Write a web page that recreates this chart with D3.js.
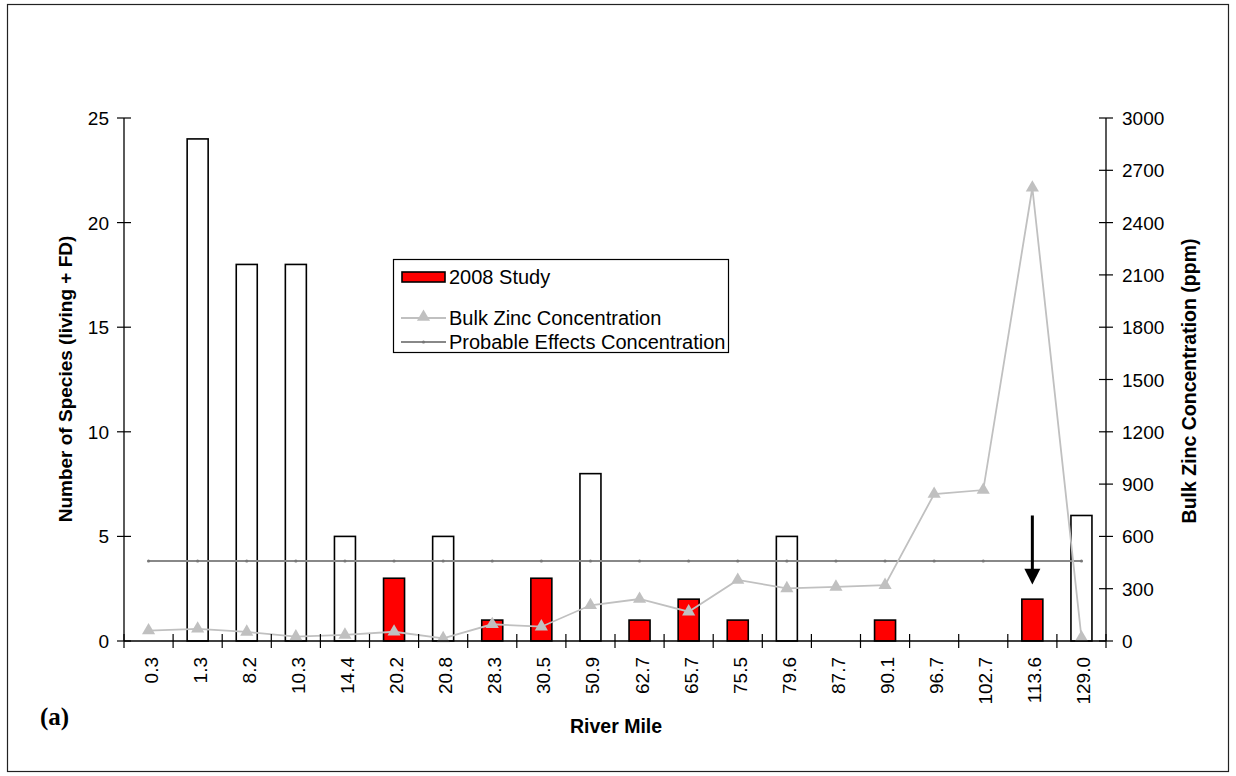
<!DOCTYPE html>
<html>
<head>
<meta charset="utf-8">
<script src="https://cdn.jsdelivr.net/npm/d3@7"></script>
<style>
  html, body { margin: 0; padding: 0; background: #fff; }
  svg { display: block; font-family: Arial, "Liberation Sans", sans-serif; }
</style>
</head>
<body>
<svg id="chart" width="1236" height="776"></svg>
<script>
// River mile stations (x categories)
const riverMiles = ["0.3","1.3","8.2","10.3","14.4","20.2","20.8","28.3","30.5","50.9",
                    "62.7","65.7","75.5","79.6","87.7","90.1","96.7","102.7","113.6","129.0"];
// Number of species (living + FD) from earlier surveys (open bars); null = no bar
const earlierSpecies = [null, 24, 18, 18, 5, null, 5, null, null, 8,
                        null, null, null, 5, null, null, null, null, null, 6];
// Number of species from the 2008 study (red bars)
const study2008 = [null, null, null, null, null, 3, null, 1, 3, null,
                   1, 2, 1, null, null, 1, null, null, 2, null];
// Bulk zinc concentration (ppm)
const bulkZinc = [60, 70, 52, 25, 35, 53, 15, 96, 82, 205,
                  241, 168, 350, 302, 310, 320, 843, 866, 2600, 20];
// Probable effects concentration for zinc (ppm)
const pecZinc = 459;
// Axis ticks
const leftTicks = [0, 5, 10, 15, 20, 25];
const rightTicks = [0, 300, 600, 900, 1200, 1500, 1800, 2100, 2400, 2700, 3000];
// Station marked with an arrow
const arrowStation = "113.6";

const svg = d3.select("#chart");
const L = 124, R = 1106, T = 118, B = 641;
const FS = 19;

// outer frame
svg.append("rect").attr("x", 7.5).attr("y", 4.5).attr("width", 1221).attr("height", 767)
  .attr("fill", "none").attr("stroke", "#222").attr("stroke-width", 1.2);

const x = d3.scaleBand().domain(riverMiles).range([L, R]).paddingInner(0).paddingOuter(0);
const yL = d3.scaleLinear().domain([0, 25]).range([B, T]);
const yR = d3.scaleLinear().domain([0, 3000]).range([B, T]);
const barW = 21;
const cx = d => x(d) + x.bandwidth() / 2;

// open bars (earlier surveys)
svg.append("g").selectAll("rect")
  .data(riverMiles.map((m, i) => ({ m, v: earlierSpecies[i] })).filter(d => d.v != null))
  .join("rect")
  .attr("x", d => cx(d.m) - barW / 2).attr("width", barW)
  .attr("y", d => yL(d.v)).attr("height", d => yL(0) - yL(d.v))
  .attr("fill", "#fff").attr("stroke", "#000").attr("stroke-width", 1.6);

// red bars (2008 study)
svg.append("g").selectAll("rect")
  .data(riverMiles.map((m, i) => ({ m, v: study2008[i] })).filter(d => d.v != null))
  .join("rect")
  .attr("x", d => cx(d.m) - barW / 2).attr("width", barW)
  .attr("y", d => yL(d.v)).attr("height", d => yL(0) - yL(d.v))
  .attr("fill", "#ff0000").attr("stroke", "#000").attr("stroke-width", 1.6);

// PEC line with small point markers
svg.append("line")
  .attr("x1", cx(riverMiles[0])).attr("x2", cx(riverMiles[riverMiles.length - 1]))
  .attr("y1", yR(pecZinc)).attr("y2", yR(pecZinc))
  .attr("stroke", "#888").attr("stroke-width", 2);
svg.append("g").selectAll("circle").data(riverMiles).join("circle")
  .attr("cx", d => cx(d)).attr("cy", yR(pecZinc)).attr("r", 1.6).attr("fill", "#777");

// zinc line with triangle markers
const zincPts = riverMiles.map((m, i) => [cx(m), yR(bulkZinc[i])]);
svg.append("path").attr("d", d3.line()(zincPts))
  .attr("fill", "none").attr("stroke", "#c0c0c0").attr("stroke-width", 1.8);
const tri = d3.symbol().type(d3.symbolTriangle).size(75);
svg.append("g").selectAll("path").data(zincPts).join("path")
  .attr("d", tri).attr("transform", d => `translate(${d[0]},${d[1]})`)
  .attr("fill", "#c0c0c0");

// x axis
const xAxis = svg.append("g");
xAxis.append("line").attr("x1", L).attr("x2", R).attr("y1", B).attr("y2", B)
  .attr("stroke", "#000").attr("stroke-width", 1.3);
xAxis.selectAll("line.tk").data(d3.range(riverMiles.length + 1)).join("line")
  .attr("class", "tk")
  .attr("x1", i => L + i * x.bandwidth()).attr("x2", i => L + i * x.bandwidth())
  .attr("y1", B - 7).attr("y2", B + 7).attr("stroke", "#000").attr("stroke-width", 1.2);
xAxis.selectAll("text").data(riverMiles).join("text")
  .attr("transform", d => `translate(${cx(d) + 9},657) rotate(-90)`)
  .attr("text-anchor", "end").attr("font-size", FS).text(d => d);

// left axis
const la = svg.append("g");
la.append("line").attr("x1", L).attr("x2", L).attr("y1", T).attr("y2", B)
  .attr("stroke", "#000").attr("stroke-width", 1.3);
la.selectAll("line.tk").data(leftTicks).join("line").attr("class", "tk")
  .attr("x1", L - 7).attr("x2", L + 7).attr("y1", d => yL(d)).attr("y2", d => yL(d))
  .attr("stroke", "#000").attr("stroke-width", 1.2);
la.selectAll("text").data(leftTicks).join("text")
  .attr("x", 109).attr("y", d => yL(d) + 7).attr("text-anchor", "end")
  .attr("font-size", FS).text(d => d);

// right axis
const ra = svg.append("g");
ra.append("line").attr("x1", R).attr("x2", R).attr("y1", T).attr("y2", B)
  .attr("stroke", "#000").attr("stroke-width", 1.3);
ra.selectAll("line.tk").data(rightTicks).join("line").attr("class", "tk")
  .attr("x1", R - 7).attr("x2", R + 7).attr("y1", d => yR(d)).attr("y2", d => yR(d))
  .attr("stroke", "#000").attr("stroke-width", 1.2);
ra.selectAll("text").data(rightTicks).join("text")
  .attr("x", 1122).attr("y", d => yR(d) + 7).attr("text-anchor", "start")
  .attr("font-size", FS).text(d => d);

// axis titles
svg.append("text").attr("transform", "translate(72,379) rotate(-90)")
  .attr("text-anchor", "middle").attr("font-size", 19).attr("font-weight", "bold")
  .text("Number of Species (living + FD)");
svg.append("text").attr("transform", "translate(1196,381) rotate(-90)")
  .attr("text-anchor", "middle").attr("font-size", 19.5).attr("font-weight", "bold")
  .text("Bulk Zinc Concentration (ppm)");
svg.append("text").attr("x", 616).attr("y", 733).attr("text-anchor", "middle")
  .attr("font-size", 19.5).attr("font-weight", "bold").text("River Mile");
svg.append("text").attr("x", 40).attr("y", 725)
  .attr("font-family", "'Liberation Serif', 'Times New Roman', serif")
  .attr("font-size", 25).attr("font-weight", "bold").text("(a)");

// arrow marking a station
const ax = cx(arrowStation);
svg.append("line").attr("x1", ax).attr("x2", ax).attr("y1", yL(6)).attr("y2", yL(3.3))
  .attr("stroke", "#000").attr("stroke-width", 3);
svg.append("path")
  .attr("d", `M${ax - 8},${yL(3.45)} L${ax + 8},${yL(3.45)} L${ax},${yL(2.7)} Z`)
  .attr("fill", "#000");

// legend
const LFS = 20;
const lg = svg.append("g");
lg.append("rect").attr("x", 393.5).attr("y", 259.5).attr("width", 335).attr("height", 93)
  .attr("fill", "#fff").attr("stroke", "#000").attr("stroke-width", 1.2);
lg.append("rect").attr("x", 402).attr("y", 272).attr("width", 43).attr("height", 10)
  .attr("fill", "#ff0000").attr("stroke", "#000").attr("stroke-width", 1.6);
lg.append("text").attr("x", 449).attr("y", 284).attr("font-size", LFS).text("2008 Study");
lg.append("line").attr("x1", 401).attr("x2", 446).attr("y1", 318).attr("y2", 318)
  .attr("stroke", "#c0c0c0").attr("stroke-width", 1.8);
lg.append("path").attr("d", tri).attr("transform", "translate(423.5,317)").attr("fill", "#c0c0c0");
lg.append("text").attr("x", 449).attr("y", 325).attr("font-size", LFS).text("Bulk Zinc Concentration");
lg.append("line").attr("x1", 401).attr("x2", 446).attr("y1", 342).attr("y2", 342)
  .attr("stroke", "#888").attr("stroke-width", 2);
lg.append("circle").attr("cx", 423.5).attr("cy", 342).attr("r", 1.6).attr("fill", "#777");
lg.append("text").attr("x", 449).attr("y", 349).attr("font-size", LFS).text("Probable Effects Concentration");
</script>
</body>
</html>
